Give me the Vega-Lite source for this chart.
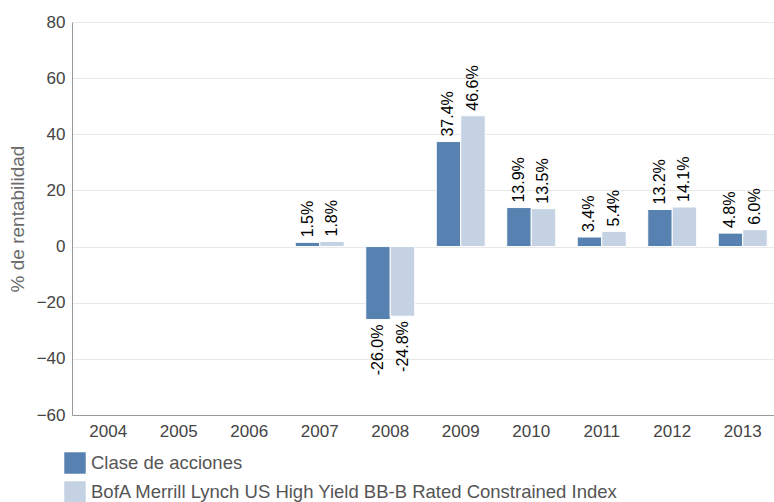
{
  "$schema": "https://vega.github.io/schema/vega-lite/v6.json",
  "autosize": "none",
  "width": 702,
  "height": 393,
  "padding": {"left": 72, "top": 22, "right": 0, "bottom": 87},
  "background": "white",
  "config": {
    "font": "Liberation Sans",
    "view": {"stroke": null}
  },
  "data": {
    "values": [
      {"year": "2007", "series": "Clase de acciones", "value": 1.5, "label": "1.5%"},
      {"year": "2007", "series": "BofA Merrill Lynch US High Yield BB-B Rated Constrained Index", "value": 1.8, "label": "1.8%"},
      {"year": "2008", "series": "Clase de acciones", "value": -26.0, "label": "-26.0%"},
      {"year": "2008", "series": "BofA Merrill Lynch US High Yield BB-B Rated Constrained Index", "value": -24.8, "label": "-24.8%"},
      {"year": "2009", "series": "Clase de acciones", "value": 37.4, "label": "37.4%"},
      {"year": "2009", "series": "BofA Merrill Lynch US High Yield BB-B Rated Constrained Index", "value": 46.6, "label": "46.6%"},
      {"year": "2010", "series": "Clase de acciones", "value": 13.9, "label": "13.9%"},
      {"year": "2010", "series": "BofA Merrill Lynch US High Yield BB-B Rated Constrained Index", "value": 13.5, "label": "13.5%"},
      {"year": "2011", "series": "Clase de acciones", "value": 3.4, "label": "3.4%"},
      {"year": "2011", "series": "BofA Merrill Lynch US High Yield BB-B Rated Constrained Index", "value": 5.4, "label": "5.4%"},
      {"year": "2012", "series": "Clase de acciones", "value": 13.2, "label": "13.2%"},
      {"year": "2012", "series": "BofA Merrill Lynch US High Yield BB-B Rated Constrained Index", "value": 14.1, "label": "14.1%"},
      {"year": "2013", "series": "Clase de acciones", "value": 4.8, "label": "4.8%"},
      {"year": "2013", "series": "BofA Merrill Lynch US High Yield BB-B Rated Constrained Index", "value": 6.0, "label": "6.0%"}
    ]
  },
  "encoding": {
    "x": {
      "field": "year",
      "type": "nominal",
      "scale": {"domain": ["2004","2005","2006","2007","2008","2009","2010","2011","2012","2013"], "range": [0, 707], "paddingInner": 0.305, "paddingOuter": 0.167},
      "axis": {
        "title": null,
        "labelAngle": 0,
        "labelFontSize": 17,
        "labelColor": "#444444",
        "labelPadding": 8,
        "ticks": false,
        "domainColor": "#999999",
        "grid": false
      }
    },
    "xOffset": {
      "field": "series",
      "type": "nominal",
      "scale": {"domain": ["Clase de acciones", "BofA Merrill Lynch US High Yield BB-B Rated Constrained Index"], "paddingInner": 0}
    },
    "y": {
      "field": "value",
      "type": "quantitative",
      "scale": {"domain": [-60, 80], "nice": false},
      "axis": {
        "title": "% de rentabilidad",
        "titleFontSize": 19,
        "titleFontWeight": "normal",
        "titleColor": "#6b6b6b",
        "titlePadding": 9,
        "values": [-60, -40, -20, 0, 20, 40, 60, 80],
        "labelFontSize": 17,
        "labelColor": "#444444",
        "labelPadding": 7,
        "ticks": false,
        "domainColor": "#999999",
        "gridColor": "#e8e8e8"
      }
    }
  },
  "layer": [
    {
      "mark": {"type": "bar", "stroke": "white", "strokeWidth": 1},
      "encoding": {
        "color": {
          "field": "series",
          "type": "nominal",
          "scale": {"domain": ["Clase de acciones", "BofA Merrill Lynch US High Yield BB-B Rated Constrained Index"], "range": ["#5681b0", "#c4d2e4"]},
          "legend": {
            "title": null,
            "orient": "none",
            "legendX": -8,
            "legendY": 430,
            "symbolType": "square",
            "symbolSize": 460,
            "symbolStrokeWidth": 0,
            "symbolOpacity": 1,
            "labelFontSize": 18.5,
            "labelColor": "#555555",
            "labelOffset": 5,
            "labelLimit": 700,
            "rowPadding": 7
          }
        }
      }
    },
    {
      "transform": [{"filter": "datum.value >= 0"}],
      "mark": {"type": "text", "angle": 270, "align": "left", "baseline": "middle", "dx": 5, "fontSize": 16, "color": "#000000"},
      "encoding": {"text": {"field": "label"}}
    },
    {
      "transform": [{"filter": "datum.value < 0"}],
      "mark": {"type": "text", "angle": 270, "align": "right", "baseline": "middle", "dx": -5, "fontSize": 16, "color": "#000000"},
      "encoding": {"text": {"field": "label"}}
    }
  ]
}
